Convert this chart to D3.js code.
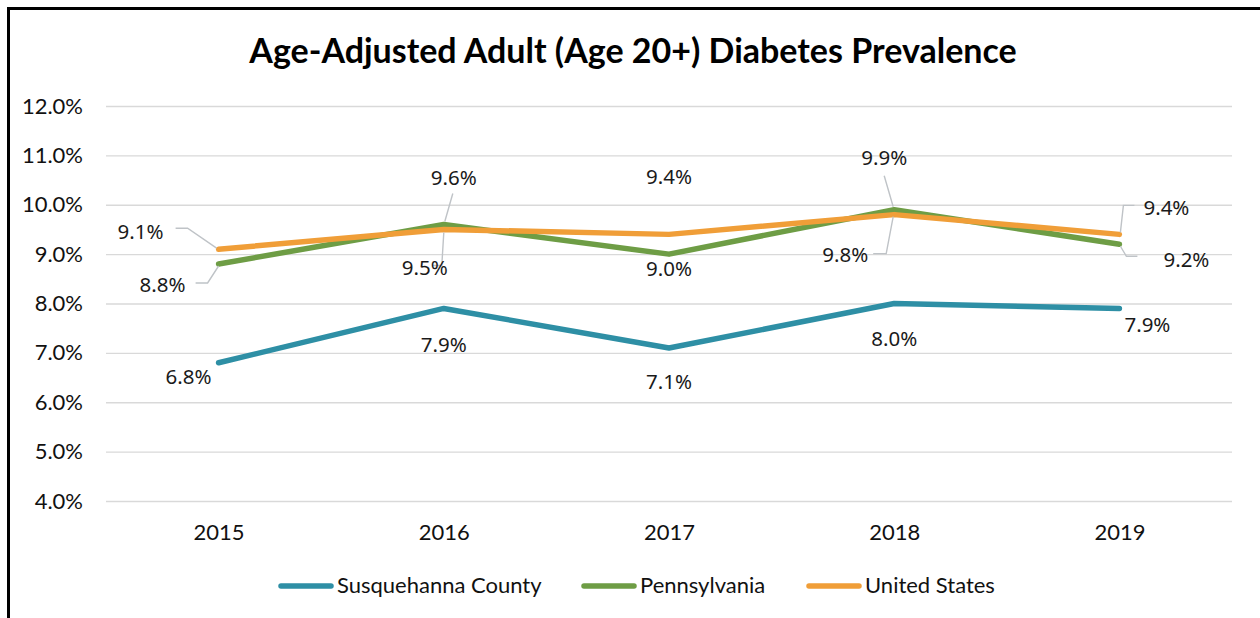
<!DOCTYPE html>
<html>
<head>
<meta charset="utf-8">
<script src="https://cdn.jsdelivr.net/npm/d3@7/dist/d3.min.js"></script>
<style>
  html, body { margin: 0; padding: 0; background: #fff; }
  svg { display: block; }
</style>
</head>
<body>
<svg id="chart" width="1260" height="618"></svg>
<script>
// ---- data ----
const years = ["2015", "2016", "2017", "2018", "2019"];
const seriesNames = ["Susquehanna County", "Pennsylvania", "United States"];
const countyValues = [6.8, 7.9, 7.1, 8.0, 7.9];
const paValues = [8.8, 9.6, 9.0, 9.9, 9.2];
const usValues = [9.1, 9.5, 9.4, 9.8, 9.4];
const yTicks = [4, 5, 6, 7, 8, 9, 10, 11, 12];
const chartTitle = "Age-Adjusted Adult (Age 20+) Diabetes Prevalence";

// ---- label layout: offset of each value label from its point, plus optional leader path ----
const countyLabelOffsets = [[-30, 14], [0, 36], [0, 34], [0, 35], [28, 16]];
const paLabelOffsets = [[-56, 21], [10, -47], [0, 14], [-10, -52], [67, 15]];
const usLabelOffsets = [[-78, -18], [-19, 38], [0, -58], [-49, 40], [47, -27]];
const countyLeaders = [null, null, null, null, null];
const paLeaders = [
  [[-23, 19], [-11, 19], [0, 2]],
  [[9, -31], [1, -3]],
  null,
  [[-10, -34], [-1, -3]],
  [[1, 2], [7, 12], [18, 12]]
];
const usLeaders = [
  [[-43, -21], [-31, -21], [-2, -1]],
  [[-11, 36], [-2, 36], [0, 3]],
  null,
  [[-21, 39], [-8, 39], [-1, 2]],
  [[1, -2], [4, -29], [15, -29]]
];

const colors = ["#2E8FA5", "#6E9D45", "#F09E38"];

const series = [
  { name: seriesNames[0], values: countyValues, color: colors[0], offsets: countyLabelOffsets, leaders: countyLeaders },
  { name: seriesNames[1], values: paValues, color: colors[1], offsets: paLabelOffsets, leaders: paLeaders },
  { name: seriesNames[2], values: usValues, color: colors[2], offsets: usLabelOffsets, leaders: usLeaders }
];

const svg = d3.select("#chart");
const axisFont = "Lato, 'Open Sans', sans-serif";
const labelFont = "'Noto Sans', 'Open Sans', sans-serif";

// outer frame (top and left edges visible)
svg.append("rect")
  .attr("x", 8.5).attr("y", 8.5)
  .attr("width", 1300).attr("height", 700)
  .attr("fill", "none")
  .attr("stroke", "#000")
  .attr("stroke-width", 3);

// title
svg.append("text")
  .attr("x", 633).attr("y", 63)
  .attr("text-anchor", "middle")
  .attr("font-family", axisFont)
  .attr("font-weight", 700)
  .attr("font-size", 34)
  .attr("fill", "#000")
  .text(chartTitle);

const plot = { left: 106, right: 1232, top: 106, bottom: 501 };

const x = d3.scalePoint()
  .domain(years)
  .range([plot.left, plot.right])
  .padding(0.5);

const y = d3.scaleLinear()
  .domain([4, 12])
  .range([plot.bottom, plot.top]);

// gridlines
svg.append("g")
  .attr("class", "grid")
  .attr("transform", `translate(${plot.left},0)`)
  .call(d3.axisLeft(y).tickValues(yTicks).tickSize(-(plot.right - plot.left)).tickFormat(""))
  .call(g => g.select(".domain").remove())
  .call(g => g.selectAll("line").attr("stroke", "#d9d9d9").attr("stroke-width", 1.3));

// y axis labels
svg.append("g")
  .attr("transform", `translate(${plot.left - 23},0)`)
  .call(d3.axisLeft(y).tickValues(yTicks).tickSize(0).tickPadding(0).tickFormat(d => d.toFixed(1) + "%"))
  .call(g => g.select(".domain").remove())
  .call(g => g.selectAll("text")
    .attr("font-family", axisFont)
    .attr("font-size", 22)
    .attr("fill", "#111"));

// x axis labels
svg.append("g")
  .attr("transform", `translate(0,${plot.bottom + 23})`)
  .call(d3.axisBottom(x).tickSize(0).tickPadding(0))
  .call(g => g.select(".domain").remove())
  .call(g => g.selectAll("text")
    .attr("font-family", axisFont)
    .attr("font-size", 22)
    .attr("fill", "#111"));

const line = d3.line()
  .x((d, i) => x(years[i]))
  .y(d => y(d));

// series lines
svg.append("g")
  .selectAll("path")
  .data(series)
  .join("path")
  .attr("d", d => line(d.values))
  .attr("fill", "none")
  .attr("stroke", d => d.color)
  .attr("stroke-width", 5.5)
  .attr("stroke-linecap", "round")
  .attr("stroke-linejoin", "round");

// leader lines and value labels
const labelLayer = svg.append("g");
series.forEach(s => {
  s.values.forEach((v, i) => {
    const px = x(years[i]);
    const py = y(v);
    const leader = s.leaders[i];
    if (leader) {
      labelLayer.append("path")
        .attr("d", d3.line()(leader.map(p => [px + p[0], py + p[1]])))
        .attr("fill", "none")
        .attr("stroke", "#bfc3c7")
        .attr("stroke-width", 1.4);
    }
    const off = s.offsets[i];
    labelLayer.append("text")
      .attr("x", px + off[0])
      .attr("y", py + off[1])
      .attr("dy", "0.36em")
      .attr("text-anchor", "middle")
      .attr("font-family", labelFont)
      .attr("font-size", 20.5)
      .attr("fill", "#1a1a1a")
      .text(v.toFixed(1) + "%");
  });
});

// legend
const legendItems = [
  { name: seriesNames[0], color: colors[0], x: 278 },
  { name: seriesNames[1], color: colors[1], x: 581 },
  { name: seriesNames[2], color: colors[2], x: 806 }
];
const legend = svg.append("g");
legendItems.forEach(item => {
  legend.append("line")
    .attr("x1", item.x + 3).attr("x2", item.x + 53)
    .attr("y1", 586).attr("y2", 586)
    .attr("stroke", item.color)
    .attr("stroke-width", 5.5)
    .attr("stroke-linecap", "round");
  legend.append("text")
    .attr("x", item.x + 59)
    .attr("y", 593)
    .attr("font-family", axisFont)
    .attr("font-size", 22)
    .attr("fill", "#111")
    .text(item.name);
});
</script>
</body>
</html>
